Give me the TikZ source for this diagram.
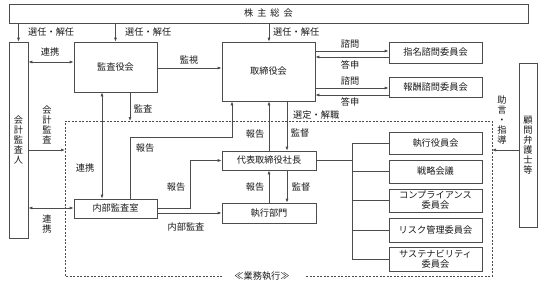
\documentclass[tikz,border=0pt]{standalone}
\usepackage{fontspec}
\setmainfont{Noto Sans CJK JP}
\usetikzlibrary{arrows.meta}
\newcommand\myfs{\fontsize{9.2}{11}\selectfont}
\newcommand\myvfs{\fontsize{9.2}{10}\selectfont}
\begin{document}
\begin{tikzpicture}[x=1pt,y=-1pt,
  line/.style={draw=black!70, line width=0.7pt},
  box/.style={line, rectangle, inner sep=0pt, font=\myfs, text=black!90, align=center},
  vbox/.style={box, font=\myvfs},
  arr/.style={line, -{Latex[length=4pt,width=3pt]}},
  darr/.style={line, {Latex[length=4pt,width=3pt]}-{Latex[length=4pt,width=3pt]}},
  lbl/.style={font=\myfs, inner sep=0pt, text=black!90},
  vlbl/.style={lbl, align=center, font=\myvfs},
  frame/.style={draw=black!70, line width=0.7pt, dash pattern=on 2pt off 1.5pt},
]
\useasboundingbox (0,0) rectangle (544,287);

% boxes
\node[box, minimum width=519pt, minimum height=19pt] (sh) at (268.5,13.5) {株\hspace{4pt}主\hspace{4pt}総\hspace{4pt}会};
\node[vbox, minimum width=19pt, minimum height=196pt] (aud) at (18.5,140) {会\\計\\監\\査\\人};
\node[box, minimum width=83pt, minimum height=50pt] (kansa) at (115.5,67) {監査役会};
\node[box, minimum width=93pt, minimum height=59pt] (board) at (268.5,71.5) {取締役会};
\node[box, minimum width=93pt, minimum height=21pt] (nom) at (435.5,52.5) {指名諮問委員会};
\node[box, minimum width=93pt, minimum height=20pt] (rem) at (435.5,87) {報酬諮問委員会};
\node[box, minimum width=94pt, minimum height=19pt] (ceo) at (269,160.5) {代表取締役社長};
\node[box, minimum width=94pt, minimum height=20pt] (exec) at (269,213) {執行部門};
\node[box, minimum width=83pt, minimum height=19pt] (ia) at (115.5,208.5) {内部監査室};
\node[box, minimum width=93pt, minimum height=22pt] (c1) at (435.5,143) {執行役員会};
\node[box, minimum width=93pt, minimum height=23pt] (c2) at (435.5,171.5) {戦略会議};
\node[vbox, minimum width=93pt, minimum height=23pt] (c3) at (435.5,200.5) {コンプライアンス\\委員会};
\node[box, minimum width=93pt, minimum height=24pt] (c4) at (435.5,230) {リスク管理委員会};
\node[vbox, minimum width=93pt, minimum height=24pt] (c5) at (435.5,259) {サステナビリティ\\委員会};
\node[vbox, minimum width=18pt, minimum height=164pt] (adv) at (528,145) {顧\\問\\弁\\護\\士\\等};

% business execution frame
\draw[frame] (222,276) -- (65,276) -- (65,121) -- (492,121) -- (492,276) -- (305,276);
\node[lbl] (gyomu) at (262,276) {≪業務執行≫};
\coordinate (fl) at (65,150);
\coordinate (ft) at (130,121);
\coordinate (fr) at (492,150);

% from shareholders
\draw[arr] (aud.north |- sh.south) -- (aud.north);
\draw[arr] (kansa.north |- sh.south) -- (kansa.north);
\draw[arr] (269,0 |- sh.south) -- (269,0 |- board.north);
\node[lbl, anchor=west] (l1) at (28,32) {選任・解任};
\node[lbl, anchor=west] (l2) at (125,32) {選任・解任};
\node[lbl, anchor=west] (l3) at (273,32) {選任・解任};

% top row
\draw[darr] (aud.east |- 0,62) -- (kansa.west |- 0,62);
\node[lbl] (lr1) at (50,52) {連携};
\draw[arr] (kansa.east |- 0,68) -- (board.west |- 0,68);
\node[lbl] (lk) at (189,60) {監視};

% committees of board
\draw[arr] (board.east |- 0,51) -- (nom.west |- 0,51);
\draw[arr] (nom.west |- 0,57) -- (board.east |- 0,57);
\draw[arr] (board.east |- 0,88) -- (rem.west |- 0,88);
\draw[arr] (rem.west |- 0,95) -- (board.east |- 0,95);
\node[lbl] (s1) at (350,44) {諮問};
\node[lbl] (t1) at (350,65) {答申};
\node[lbl] (s2) at (350,81) {諮問};
\node[lbl] (t2) at (350,102) {答申};

% audit
\draw[arr] (kansa.south -| ft) -- (ft);
\node[lbl] (la) at (143,109) {監査};
\draw[arr] (aud.east |- fl) -- (fl);
\node[vlbl] (lka) at (47,125) {会\\計\\監\\査};
\draw[darr] (aud.east |- 0,208) -- (ia.west |- 0,208);
\node[vlbl] (lr2) at (47,224) {連\\携};
\draw[darr] (102,0 |- kansa.south) -- (102,0 |- ia.north);
\node[lbl] (lr3) at (85,168) {連携};

% internal audit reports
\draw[arr] (130,0 |- ia.north) |- (232,137) -- (232,0 |- board.south);
\node[lbl] (h1) at (145,148) {報告};
\draw[arr] (ia.east |- 0,208) -| (190,160.5) -- (ceo.west);
\node[lbl] (h2) at (176,187) {報告};
\draw[arr] (ia.east |- 0,213) -- (exec.west |- 0,213);
\node[lbl] (lia) at (186,227) {内部監査};

% board - ceo - exec
\draw[arr] (269,0 |- ceo.north) -- (269,0 |- board.south);
\draw[arr] (287,0 |- board.south) -- (287,0 |- ceo.north);
\node[lbl] (h3) at (255,134) {報告};
\node[lbl] (g1) at (300,133) {監督};
\node[lbl, anchor=west] (sel) at (293,115) {選定・解職};
\draw[arr] (269,0 |- exec.north) -- (269,0 |- ceo.south);
\draw[arr] (287,0 |- ceo.south) -- (287,0 |- exec.north);
\node[lbl] (h4) at (255,187) {報告};
\node[lbl] (g2) at (301,187) {監督};

% tree to committees
\draw[line] (ceo.east) -- (352,0 |- ceo.east);
\draw[line] (352,0 |- c1.west) -- (352,0 |- c5.west);
\foreach \i in {1,...,5} \draw[line] (352,0 |- c\i.west) -- (c\i.west);

% advisors
\draw[arr] (adv.west |- fr) -- (fr);
\node[vlbl] (ladv) at (502,120) {助\\言\\・\\指\\導};
\end{tikzpicture}
\end{document}
